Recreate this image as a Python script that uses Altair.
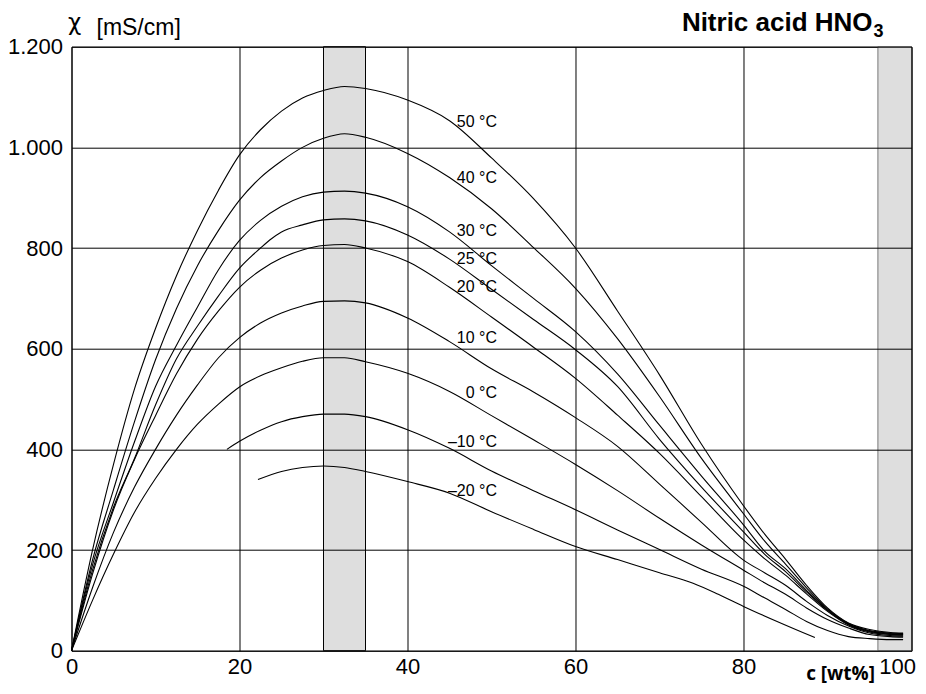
import altair as alt
import pandas as pd

# ---------------- data ----------------
X_GRID = [0, 2.5, 5, 7.5, 10, 12.5, 15, 17.5, 20, 22.5, 25, 27.5, 30, 32.5, 35, 40, 45, 50, 55,
          60, 65, 70, 75, 80, 82.5, 85, 87.5, 90, 92.5, 95, 97.5, 99]

Y_50 = [0, 200, 370, 520, 640, 745, 835, 915, 985, 1035, 1072, 1098, 1113, 1121, 1117, 1094, 1053, 979, 898,
        800, 675, 548, 410, 288, 232, 182, 130, 85, 55, 42, 36, 35]
Y_40 = [0, 180, 320, 455, 578, 680, 765, 835, 895, 940, 973, 1000, 1018, 1027, 1020, 988, 940, 878, 801,
        720, 620, 505, 382, 272, 218, 172, 125, 83, 54, 40, 35, 34]
Y_30 = [0, 170, 295, 415, 525, 607, 683, 757, 815, 855, 883, 902, 911, 913, 909, 882, 832, 765, 700,
        634, 550, 448, 347, 250, 198, 163, 120, 81, 53, 39, 34, 33]
X_25 = [0, 2.5, 5, 7.5, 10, 12.5, 15, 17.5, 20, 22.5, 23.6, 25, 27.5, 30, 32.5, 35, 40, 45, 50, 55,
        60, 65, 70, 75, 80, 82.5, 85, 87.5, 90, 92.5, 95, 97.5, 99]
Y_25 = [0, 160, 285, 382, 488, 580, 645, 705, 760, 800, 816, 832, 846, 856, 858, 854, 826, 778, 718, 658,
        598, 525, 420, 325, 236, 192, 157, 117, 80, 52, 38, 33, 32]
Y_20 = [0, 152, 280, 380, 467, 550, 619, 675, 722, 756, 780, 796, 805, 807, 800, 773, 722, 663, 603,
        541, 468, 392, 306, 220, 183, 150, 113, 78, 51, 37, 32, 31]
Y_10 = [0, 125, 235, 325, 400, 468, 528, 582, 622, 651, 671, 685, 694, 695, 691, 661, 614, 560, 514,
        463, 406, 331, 255, 180, 155, 130, 98, 70, 49, 35, 30, 29]
Y_0 = [0, 100, 192, 275, 342, 400, 450, 490, 524, 546, 562, 575, 582, 582, 574, 551, 515, 467, 419,
       370, 318, 263, 210, 160, 135, 112, 85, 62, 45, 32, 28, 27]
X_M10 = [18.5, 20, 22.5, 25, 27.5, 30, 32.5, 35, 40, 45, 50, 55, 60, 65, 70, 75, 80,
         82.5, 85, 87.5, 90, 92.5, 95, 97.5, 99]
Y_M10 = [400, 416, 438, 455, 465, 470, 470, 465, 439, 402, 357, 318, 280, 240, 201, 162, 128,
         105, 82, 58, 40, 28, 24, 22, 22]
X_M20 = [22.2, 25, 27.5, 30, 32.5, 35, 40, 45, 50, 55, 60, 65, 70, 74, 77, 80, 84, 88.5]
Y_M20 = [340, 356, 364, 367, 364, 356, 336, 313, 276, 241, 207, 181, 155, 134, 112, 88, 58, 26]

SERIES = ["50", "40", "30", "25", "20", "10", "0", "-10", "-20"]
SERIES_X = [X_GRID, X_GRID, X_GRID, X_25, X_GRID, X_GRID, X_GRID, X_M10, X_M20]
SERIES_Y = [Y_50, Y_40, Y_30, Y_25, Y_20, Y_10, Y_0, Y_M10, Y_M20]

LABEL_TEXT = ["50 °C", "40 °C", "30 °C", "25 °C", "20 °C", "10 °C", "0 °C", "–10 °C", "–20 °C"]
LABEL_C = [50.65] * 9
LABEL_K = [1050, 939, 833, 778, 723, 621, 512, 414, 318]

BAND_START = [30, 96]
BAND_END = [35, 100]
BAND_EDGE = ["#000000", "#777777"]

X_TICKS = [0, 20, 40, 60, 80, 100]
Y_TICKS = [0, 200, 400, 600, 800, 1000, 1200]

# ---------------- tables ----------------
rows = []
for s, xs, ys in zip(SERIES, SERIES_X, SERIES_Y):
    for i, (xv, yv) in enumerate(zip(xs, ys)):
        rows.append({"series": s, "c": xv, "k": yv, "i": i})
curves = pd.DataFrame(rows)
labels = pd.DataFrame({"c": LABEL_C, "k": LABEL_K, "t": LABEL_TEXT})
bands = pd.DataFrame({"c": BAND_START, "c2": BAND_END, "edge": BAND_EDGE})
one = pd.DataFrame({"a": [0]})

FONT = "Liberation Sans"

xscale = alt.Scale(domain=[0, 100], nice=False, zero=False)
yscale = alt.Scale(domain=[0, 1200], nice=False)
xaxis = alt.Axis(values=X_TICKS, grid=True, gridColor="black", gridOpacity=1, gridWidth=1,
                 ticks=False, domain=False, labelFontSize=22, labelFont=FONT, labelColor="black",
                 labelPadding=6, title=None, zindex=1, labelFlush=False,
                 labelAlign={"condition": {"test": "datum.value == 100", "value": "right"},
                             "value": "center"},
                 labelOffset={"condition": {"test": "datum.value == 100", "value": 4},
                              "value": 0})
yaxis = alt.Axis(values=Y_TICKS, grid=True, gridColor="black", gridOpacity=1, gridWidth=1,
                 ticks=False, domain=False, labelFontSize=22, labelFont=FONT, labelColor="black",
                 labelPadding=9, title=None, zindex=1, labelFlush=False,
                 labelExpr="replace(format(datum.value, ','), ',', '.')")

band_layer = alt.Chart(bands).mark_rect(fill="#dedede", strokeWidth=1).encode(
    x=alt.X("c:Q", scale=xscale, axis=xaxis),
    x2="c2:Q",
    y=alt.value(0),
    y2=alt.value(604),
    stroke=alt.Stroke("edge:N", scale=None),
)

line_layer = alt.Chart(curves).mark_line(color="black", strokeWidth=1.1, interpolate="monotone").encode(
    x=alt.X("c:Q", scale=xscale, axis=xaxis),
    y=alt.Y("k:Q", scale=yscale, axis=yaxis),
    detail="series:N",
    order="i:Q",
)

label_layer = alt.Chart(labels).mark_text(align="right", baseline="middle", fontSize=16,
                                          font=FONT, color="black").encode(
    x=alt.X("c:Q", scale=xscale, axis=xaxis),
    y=alt.Y("k:Q", scale=yscale, axis=yaxis),
    text="t:N",
)

title_main = alt.Chart(one).mark_text(text="Nitric acid HNO", align="right", baseline="alphabetic",
                                      fontSize=26, font=FONT, fontWeight="bold",
                                      color="black").encode(x=alt.value(801), y=alt.value(-15.2))
title_sub = alt.Chart(one).mark_text(text="3", align="left", baseline="alphabetic",
                                     fontSize=18, font=FONT, fontWeight="bold",
                                     color="black").encode(x=alt.value(802), y=alt.value(-9.5))
chi_title = alt.Chart(one).mark_text(text="χ", align="left", baseline="alphabetic",
                                     fontSize=23, font="DejaVu Sans", color="black").encode(
    x=alt.value(-3.5), y=alt.value(-17))
unit_title = alt.Chart(one).mark_text(text="[mS/cm]", align="left", baseline="alphabetic",
                                      fontSize=23, font=FONT, color="black").encode(
    x=alt.value(25), y=alt.value(-11.5))
x_title = alt.Chart(one).mark_text(text="c [wt%]", align="right", baseline="alphabetic",
                                   fontSize=19, font="Open Sans", fontWeight="bold",
                                   color="black").encode(x=alt.value(803.5), y=alt.value(633))

chart = alt.layer(band_layer, line_layer, label_layer, title_main, title_sub,
                  chi_title, unit_title, x_title).properties(
    width=840,
    height=604,
    autosize=alt.AutoSizeParams(type="none"),
    padding={"left": 63.5, "top": 38.7, "right": 6, "bottom": 35},
).configure_view(stroke="black", strokeWidth=1)

chart.save("out.html", embed_options={"renderer": "svg", "actions": False})
